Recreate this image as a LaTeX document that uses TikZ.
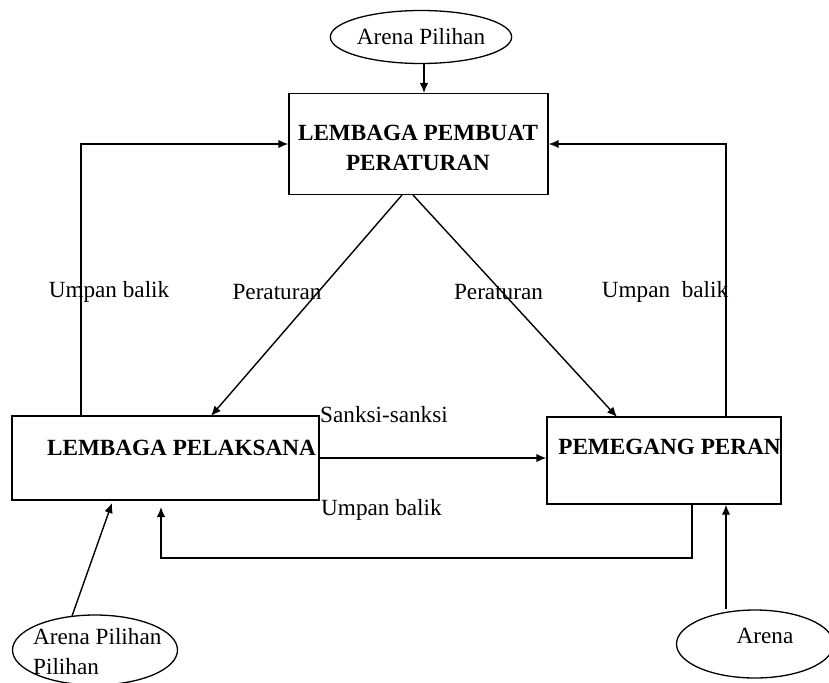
\documentclass[tikz,border=0pt]{standalone}
\usepackage{fontspec}
\setmainfont{Liberation Serif}
\usetikzlibrary{shapes.geometric,arrows.meta}
\begin{document}
\begin{tikzpicture}[x=1pt,y=-1pt,
  every node/.style={font=\fontsize{23.2}{30}\selectfont, inner sep=0pt},
  boxshape/.style={draw, line width=1.4pt, rectangle},
  ovalshape/.style={draw, line width=1.3pt, ellipse},
  boldtxt/.style={font=\fontsize{23.2}{30}\selectfont\bfseries, align=center},
  conn/.style={line width=1.4pt},
  arr/.style={conn, -{Latex[length=10pt,width=8.5pt]}}]
\useasboundingbox (0,0) rectangle (829,682);
% nodes
\node[ovalshape, minimum width=163pt, minimum height=53pt] (e1) at (421,37) {Arena Pilihan};
\node[boxshape, minimum width=259pt, minimum height=101pt] (b1) at (418.5,144) {};
\node[boldtxt] (t1) at (418,148) {LEMBAGA PEMBUAT\\PERATURAN};
\node[boxshape, minimum width=307pt, minimum height=84pt] (b2) at (165.5,458) {};
\node[boldtxt] (t2) at (181.5,448) {LEMBAGA PELAKSANA};
\node[boxshape, minimum width=234pt, minimum height=87pt] (b3) at (664,460.5) {};
\node[boldtxt] (t3) at (669.5,447) {PEMEGANG PERAN};
\node[ovalshape, minimum width=165pt, minimum height=70pt] (e2) at (95,650) {};
\node[anchor=west, align=left] (t4) at (33,652) {Arena Pilihan\\Pilihan};
\node[ovalshape, minimum width=157pt, minimum height=68pt] (e3) at (755,644) {};
\node (t5) at (765,636) {Arena};
% labels
\node (l1) at (109,292) {Umpan balik};
\node (l2) at (277,292) {Peraturan};
\node (l3) at (498.5,292) {Peraturan};
\node (l4) at (665,292) {Umpan\ \ balik};
\node[anchor=west] (l5) at (320,415) {Sanksi-sanksi};
\node[anchor=west] (l6) at (321,510) {Umpan balik};
% coordinates
\coordinate (c1) at (81,144);
\coordinate (c2) at (726,144);
\coordinate (c3) at (692,558);
\coordinate (c4) at (161,558);
\coordinate (c5) at (161,507);
\coordinate (c6) at (72,616);
\coordinate (c7) at (112,503);
\coordinate (c8) at (402,195);
\coordinate (c9) at (413,195);
% connectors
\draw[arr] (e1.south -| 424,0) -- (424,93);
\draw[arr] (b2.north -| c1) -- (c1) -- (b1.west |- c1);
\draw[arr] (b3.north -| c2) -- (c2) -- (b1.east |- c2);
\draw[arr] (c8) -- (211,416);
\draw[arr] (c9) -- (617,417);
\draw[arr] (b2.east |- 0,458) -- (b3.west |- 0,458);
\draw[arr] (b3.south -| c3) -- (c3) -- (c4) -- (c5);
\draw[arr] (c6) -- (c7);
\draw[arr] (e3.north -| 726,0) -- (b3.south -| 726,0);
\end{tikzpicture}
\end{document}
